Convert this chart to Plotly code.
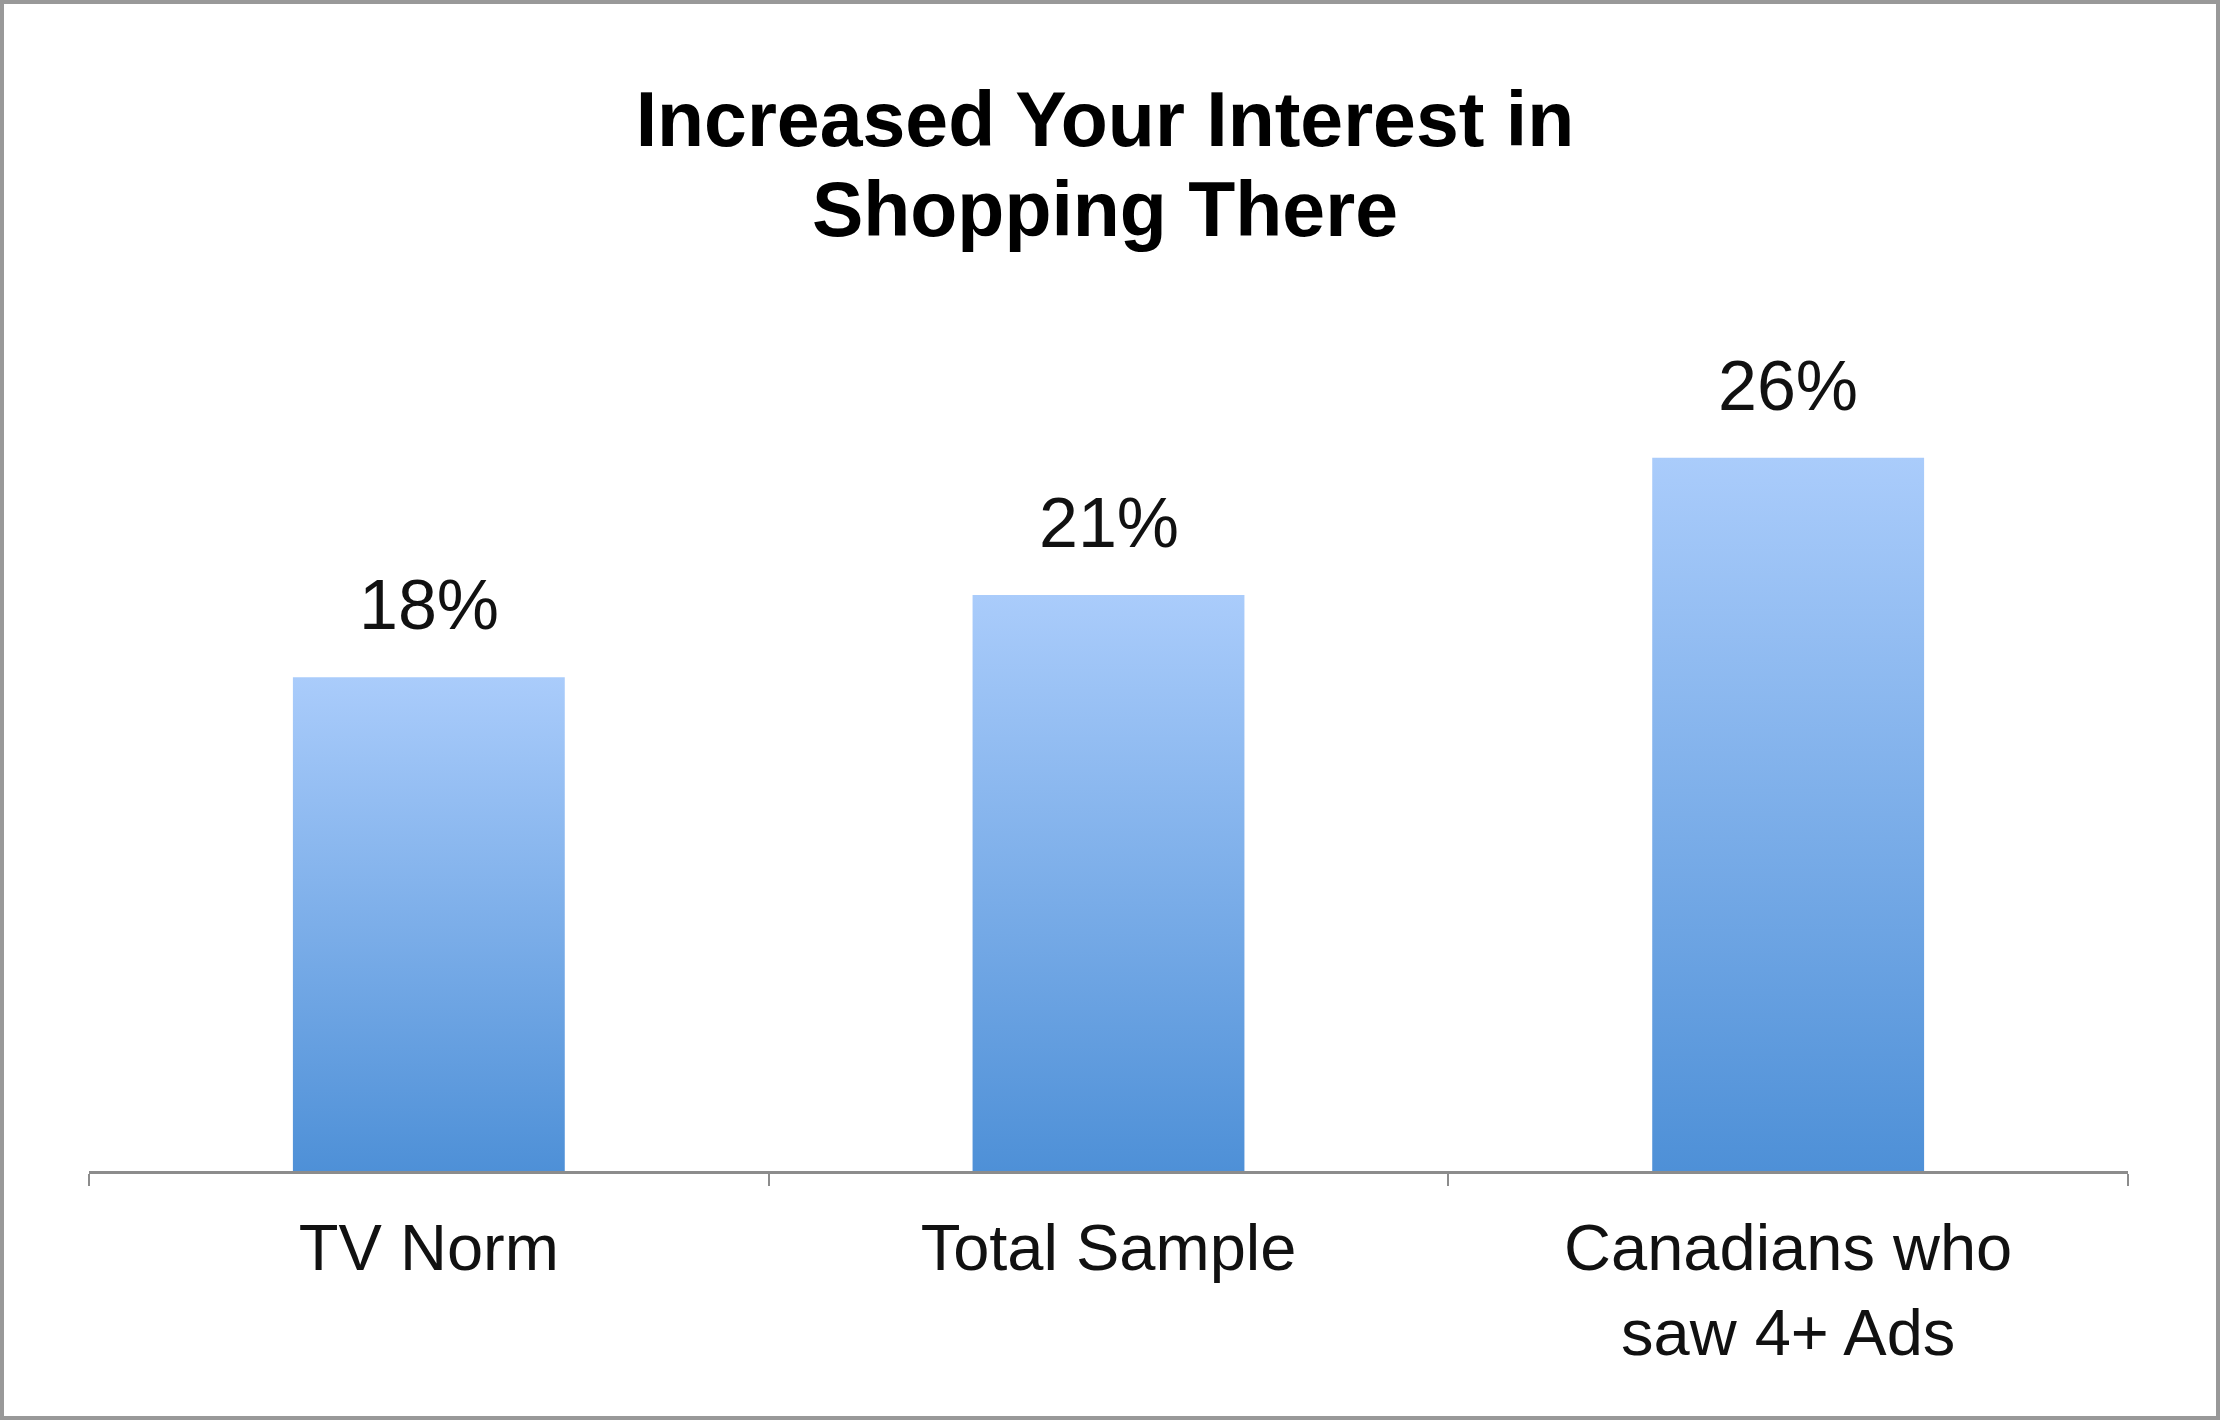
import plotly.graph_objects as go

# ---- data ----
categories = ["TV Norm", "Total Sample", "Canadians who<br>saw 4+ Ads"]
values = [18, 21, 26]
value_labels = ["18%", "21%", "26%"]
title_lines = ["Increased Your Interest in", "Shopping There"]

# ---- layout constants ----
W, H = 2221, 1421
ML, MR, MT, MB = 89, 93, 300, 250
BAR_HALF = 0.2
Y_MAX = 31.75
FONT = "Liberation Sans, Arial, Helvetica, sans-serif"
TOP_COLOR = "#AACCFB"
BOTTOM_COLOR = "#4E90D7"
TITLE_SIZE = 77
TITLE_LINE = 69  # controls line spacing (1.3 * size)

fig = go.Figure()

for i, (cat, v) in enumerate(zip(categories, values)):
    xs = [i - BAR_HALF, i - BAR_HALF, i + BAR_HALF, i + BAR_HALF, i - BAR_HALF]
    ys = [0, v, v, 0, 0]
    fig.add_trace(go.Scatter(
        x=xs, y=ys, mode="lines", fill="toself",
        line=dict(width=0, color=BOTTOM_COLOR),
        fillgradient=dict(type="vertical",
                          colorscale=[[0, BOTTOM_COLOR], [1, TOP_COLOR]],
                          start=0, stop=v),
        hoverinfo="skip", showlegend=False, name=cat.replace("<br>", " "),
    ))

for i, (v, lab) in enumerate(zip(values, value_labels)):
    fig.add_annotation(x=i, y=v, xref="x", yref="y", text=lab,
                       showarrow=False, yanchor="middle", yshift=72,
                       font=dict(family=FONT, size=70, color="#111111"))

plot_w = W - ML - MR
plot_h = H - MT - MB

title_text = "<br>".join(
    f'<span style="font-size:{TITLE_SIZE}px">{t}</span>' for t in title_lines)

fig.update_layout(
    width=W, height=H,
    margin=dict(l=ML, r=MR, t=MT, b=MB),
    paper_bgcolor="white", plot_bgcolor="white",
    title=dict(text=title_text, x=0.4975, xanchor="center",
               y=1 - 146 / H, yanchor="middle", yref="container",
               font=dict(family=FONT, size=TITLE_LINE, color="black",
                         weight="bold")),
    xaxis=dict(range=[-0.5, 2.5], tickmode="array", tickvals=[0, 1, 2],
               ticktext=categories, ticks="", showgrid=False, zeroline=False,
               showline=True, linecolor="#8C8C8C", linewidth=3,
               tickfont=dict(family=FONT, size=65, color="#111111"),
               ticklabelstandoff=18,
               minor=dict(tickmode="linear", tick0=0.5, dtick=1,
                          ticks="outside", ticklen=12, tickwidth=2,
                          tickcolor="#8C8C8C", showgrid=False),
               fixedrange=True),
    yaxis=dict(range=[0, Y_MAX], visible=False, showgrid=False,
               zeroline=False, fixedrange=True),
    shapes=[dict(type="rect", xref="paper", yref="paper",
                 x0=(2 - ML) / plot_w, x1=(W - 3 - ML) / plot_w,
                 y0=(H - MB - (H - 3)) / plot_h, y1=(H - MB - 2) / plot_h,
                 line=dict(color="#999999", width=4), fillcolor="rgba(0,0,0,0)",
                 layer="above")],
)

fig.write_html("out.html",
               config={"displayModeBar": False, "staticPlot": True},
               post_script="document.body.style.margin='0';"
                           "document.body.style.overflow='hidden';")
